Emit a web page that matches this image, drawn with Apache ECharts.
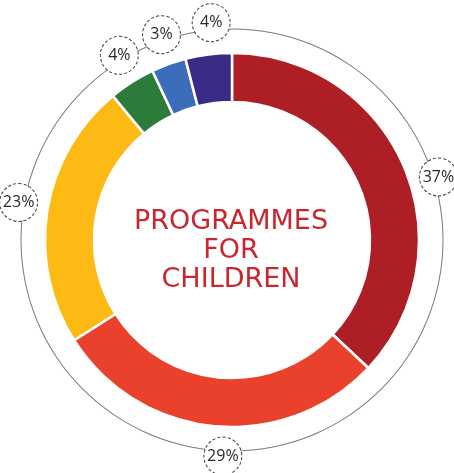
<!DOCTYPE html>
<html>
<head>
<meta charset="utf-8">
<script src="https://cdn.jsdelivr.net/npm/echarts@6/dist/echarts.min.js"></script>
<style>html,body{margin:0;padding:0;background:#fff;}#c{width:454px;height:473px;}</style>
</head>
<body>
<div id="c"></div>
<script>
const categories = ['A', 'B', 'C', 'D', 'E', 'F'];
const values = [37, 29, 23, 4, 3, 4];
const colors = ['#AE1E25', '#E9412B', '#FDB914', '#2C7B3A', '#3C6DBA', '#3A2C86'];
const titleLines = ['PROGRAMMES', 'FOR', 'CHILDREN'];

const center = [232, 240];
const labelOffsets = [[10, 22], [11, 3], [-2, -4], [2, -4], [2, -4], [6, -5]];

const donutData = categories.map((c, i) => ({ name: c, value: values[i], itemStyle: { color: colors[i] } }));
const labelData = categories.map((c, i) => ({ name: c, value: values[i], label: { offset: labelOffsets[i] } }));

const chart = echarts.init(document.getElementById('c'), null, { renderer: 'canvas' });
chart.setOption({
  backgroundColor: '#ffffff',
  animation: false,
  series: [
    {
      type: 'pie', silent: true, z: 1,
      center: center, radius: [210.5, 211.5],
      label: { show: false }, labelLine: { show: false },
      data: [{ value: 1, itemStyle: { color: '#7a7a7a' } }]
    },
    {
      type: 'pie', silent: true, z: 2,
      center: center, radius: [138, 187], startAngle: 90, clockwise: true,
      itemStyle: { borderColor: '#ffffff', borderWidth: 2.5 },
      label: { show: false }, labelLine: { show: false },
      data: donutData
    },
    {
      type: 'pie', silent: true, z: 3,
      center: center, radius: [211, 211], startAngle: 90, clockwise: true,
      itemStyle: { color: 'transparent', borderWidth: 0 },
      labelLine: { show: false },
      label: {
        show: true, position: 'inside', formatter: '{c}%',
        color: '#2a2a2a', fontSize: 16, fontFamily: 'Open Sans',
        backgroundColor: '#ffffff', borderColor: '#444', borderWidth: 1, borderType: [3, 2],
        borderRadius: 19, width: 37, height: 37, lineHeight: 37, padding: 0,
        align: 'center', verticalAlign: 'middle'
      },
      data: labelData
    }
  ],
  graphic: [{
    type: 'text', x: 231, y: 251, z: 10,
    style: {
      text: titleLines.join('\n'), fill: '#C9262F',
      font: 'normal 27px "DejaVu Sans"', lineHeight: 29,
      textAlign: 'center', textVerticalAlign: 'middle'
    }
  }]
});
</script>
</body>
</html>
